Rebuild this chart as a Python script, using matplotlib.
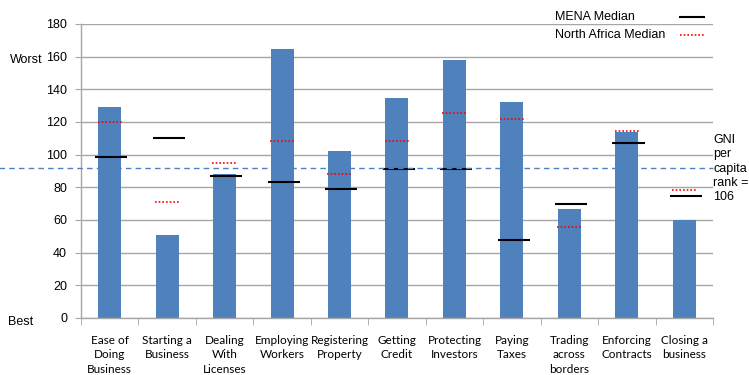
import numpy as np
import matplotlib.pyplot as plt
from matplotlib.lines import Line2D

# Doing Business rankings by topic
categories = ['Ease of\nDoing\nBusiness', 'Starting a\nBusiness', 'Dealing\nWith\nLicenses',
              'Employing\nWorkers', 'Registering\nProperty', 'Getting\nCredit',
              'Protecting\nInvestors', 'Paying\nTaxes', 'Trading\nacross\nborders',
              'Enforcing\nContracts', 'Closing a\nbusiness']
rank = [129, 51, 88, 165, 102, 135, 158, 132, 67, 114, 60]
mena_median = [98.5, 110, 87, 83, 79, 91, 91, 48, 69.5, 107, 74.5]
north_africa_median = [120, 71, 95, 108.5, 88, 108.5, 125.5, 122, 56, 114.5, 78.5]
gni_rank_line = 92
legend_labels = ['MENA Median', 'North Africa Median']

bar_color = '#4f81bd'
grid_color = '#a6a6a6'
red_dots = (0, (1, 1.2))

fig = plt.figure(figsize=(7.49, 3.75), dpi=100)
ax = fig.add_axes([0.108, 0.152, 0.844, 0.784])

x = np.arange(len(categories))
ax.bar(x, rank, width=0.4, color=bar_color, zorder=2)

# median markers drawn as short horizontal segments on each bar
ax.hlines(mena_median, x - 0.25, x + 0.31, colors='black', linewidth=1.5, zorder=3)
ax.hlines(north_africa_median, x - 0.21, x + 0.21, colors='red', linewidth=1.2,
          linestyles=red_dots, zorder=3)

# GNI per capita rank reference line, reaching past the left axis
ax.plot([-0.13, 1.0], [gni_rank_line, gni_rank_line], transform=ax.get_yaxis_transform(),
        color='#4f81bd', linestyle=(0, (4, 3)), linewidth=1, clip_on=False, zorder=4)

ax.set_xlim(-0.5, len(categories) - 0.5)
ax.set_ylim(0, 180)
ax.set_yticks(np.arange(0, 181, 20))
ax.yaxis.grid(True, color=grid_color, linewidth=1)
ax.set_axisbelow(True)

ax.set_xticks(x)
ax.set_xticklabels(categories, fontsize=8.5, family='Lato', linespacing=1.4)
ax.set_xticks(np.arange(-0.5, len(categories)), minor=True)
ax.tick_params(axis='x', which='major', length=0, pad=12)
ax.tick_params(axis='x', which='minor', length=5, color=grid_color)
ax.tick_params(axis='y', length=4, color=grid_color, labelsize=9, pad=6)
for lbl in ax.get_yticklabels():
    lbl.set_family('Liberation Sans')

for side in ['top', 'right']:
    ax.spines[side].set_visible(False)
for side in ['left', 'bottom']:
    ax.spines[side].set_color(grid_color)
    ax.spines[side].set_linewidth(1)

tf = dict(fontsize=9, family='Liberation Sans')
fig.text(0.013, 0.84, 'Worst', va='center', **tf)
fig.text(0.011, 0.141, 'Best', va='center', **tf)
fig.text(0.952, 0.55, 'GNI\nper\ncapita\nrank =\n106', va='center', ha='left',
         linespacing=1.25, **tf)

# legend: left-aligned labels with the line sample on the right
fig.text(0.741, 0.956, legend_labels[0], va='center', **tf)
fig.text(0.741, 0.907, legend_labels[1], va='center', **tf)
fig.add_artist(Line2D([0.908, 0.940], [0.955, 0.955], color='black', linewidth=1.5))
fig.add_artist(Line2D([0.908, 0.940], [0.907, 0.907], color='red', linewidth=1.2,
                      linestyle=red_dots))

fig.savefig('out.png', dpi=100)
